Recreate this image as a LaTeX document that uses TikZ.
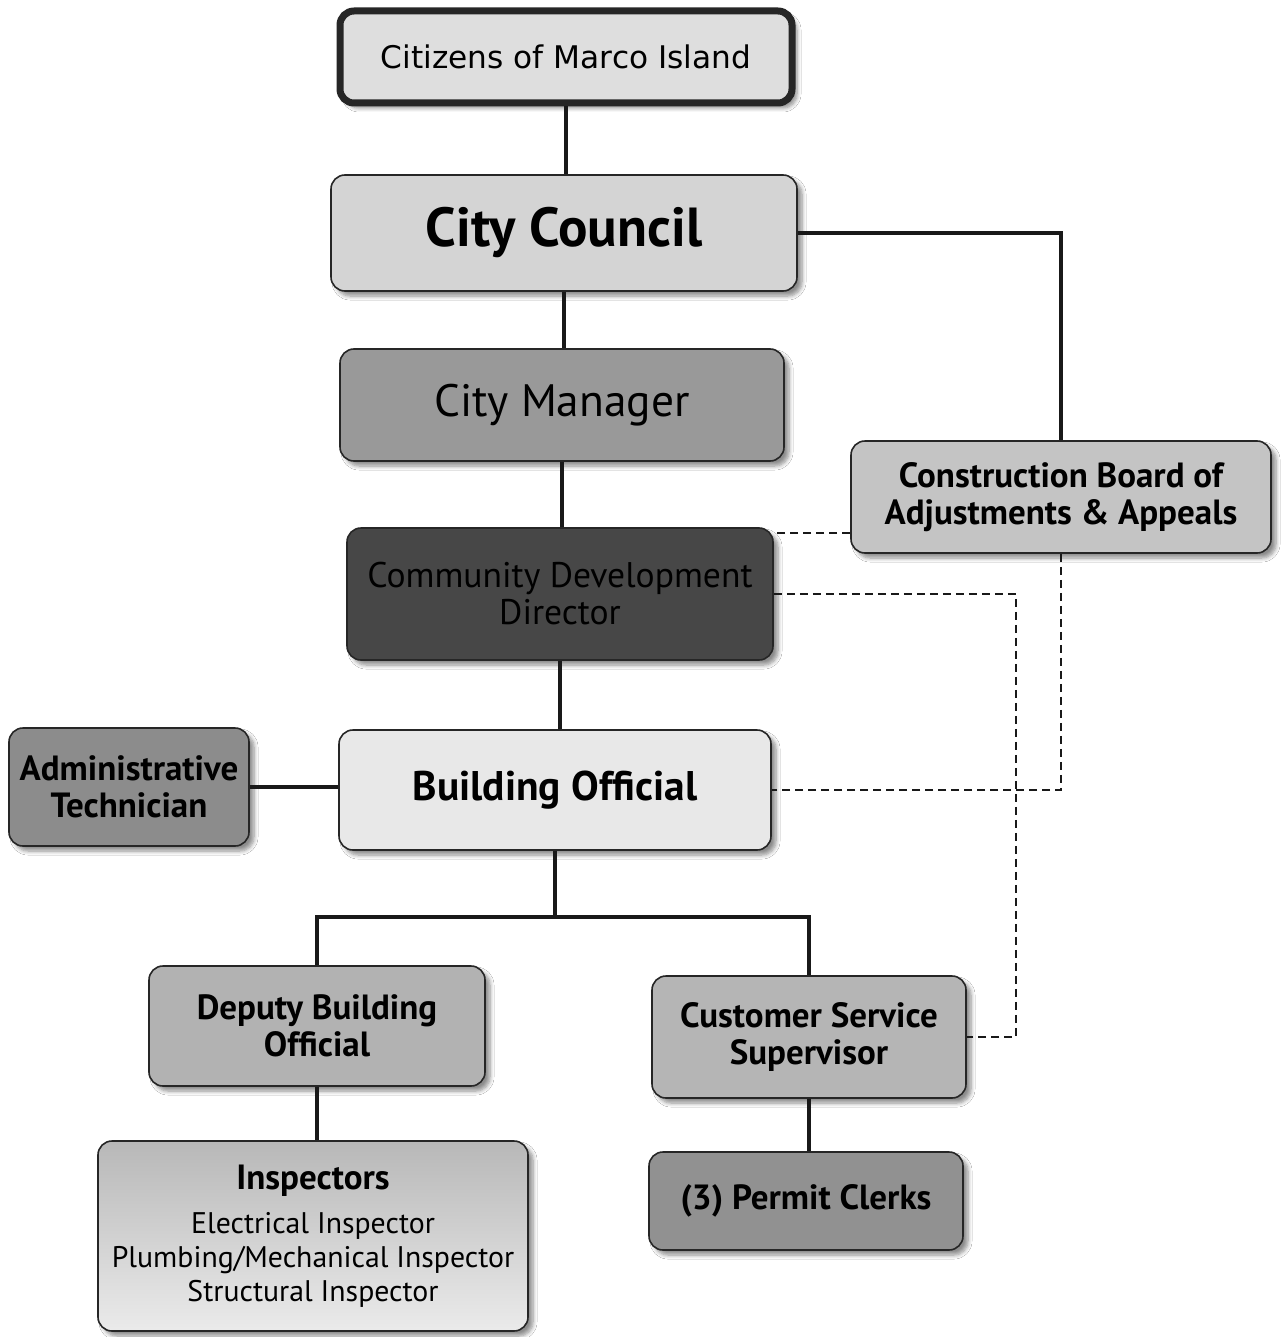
\documentclass[tikz,border=0pt]{standalone}
\usepackage{fontspec}
\setmainfont{PT Sans}
\newfontfamily\citfont{DejaVu Sans}
\usetikzlibrary{shadows,shadows.blur}
\begin{document}
\begin{tikzpicture}[x=0.5pt,y=-0.5pt,
  box/.style={draw=black!85, line width=0.8pt, rounded corners=7pt, align=center,
    inner sep=0pt, text=black,
    blur shadow={shadow xshift=2.5pt, shadow yshift=-2.5pt, shadow blur steps=6,
      shadow blur radius=2pt, shadow opacity=45}},
  link/.style={line width=2pt, draw=black!90},
  dlink/.style={line width=1.1pt, dash pattern=on 4pt off 2.5pt, draw=black!90},
  big/.style={font=\fontsize{27.5}{30}\selectfont\bfseries},
  mid/.style={font=\fontsize{17.5}{18.5}\selectfont\bfseries},
]
\useasboundingbox (0,0) rectangle (1286,1337);
\fill[white] (0,0) rectangle (1286,1337);

% boxes
\node[box, line width=3.5pt, fill=black!13, minimum width=226pt, minimum height=46pt,
  font=\citfont\fontsize{15.6}{18}\selectfont] (cit) at (566,57) {Citizens of Marco Island};
\node[box, fill=black!17, minimum width=233pt, minimum height=58pt, big] (cc) at (564,233) {City Council};
\node[box, fill=black!40, minimum width=222pt, minimum height=56pt,
  font=\fontsize{22.7}{26}\selectfont] (cm) at (562,405) {City Manager};
\node[box, fill=black!72, minimum width=213pt, minimum height=66pt,
  font=\fontsize{17.8}{18.5}\selectfont] (cdd) at (560,594) {Community Development\\Director};
\node[box, fill=black!23, minimum width=210pt, minimum height=56pt, mid] (cb) at (1061,497) {Construction Board of\\Adjustments \& Appeals};
\node[box, fill=black!45, minimum width=120pt, minimum height=59pt, mid] (at) at (129,787) {Administrative\\Technician};
\node[box, fill=black!9, minimum width=216pt, minimum height=60pt,
  font=\fontsize{20.7}{24}\selectfont\bfseries] (bo) at (555,790) {Building Official};
\node[box, fill=black!30, minimum width=168pt, minimum height=60pt, mid] (dbo) at (317,1026) {Deputy Building\\Official};
\node[box, fill=black!29, minimum width=157pt, minimum height=61pt, mid] (css) at (809,1037) {Customer Service\\Supervisor};
\node[box, top color=black!28, bottom color=black!8, minimum width=215pt, minimum height=95pt,
  font=\fontsize{14.9}{17}\selectfont] (ins) at (313,1236)
  {{\fontsize{17.5}{19}\selectfont\bfseries Inspectors}\\[5pt]Electrical Inspector\\Plumbing/Mechanical Inspector\\Structural Inspector};
\node[box, fill=black!43, minimum width=157pt, minimum height=49pt, mid] (pc) at (806,1201) {(3) Permit Clerks};

% reporting lines
\coordinate (bus) at (0,917);
\draw[link] (cit.south) -- (cit.south |- cc.north);
\draw[link] (cc.south) -- (cc.south |- cm.north);
\draw[link] (cm.south) -- (cm.south |- cdd.north);
\draw[link] (cdd.south) -- (cdd.south |- bo.north);
\draw[link] (cc.east) -| (cb.north);
\draw[link] (at.east) -- (bo.west |- at.east);
\draw[link] (bo.south) -- (bo.south |- bus);
\draw[link] (dbo.north) -- (dbo.north |- bus) -- (css.north |- bus) -- (css.north);
\draw[link] (dbo.south) -- (dbo.south |- ins.north);
\draw[link] (css.south) -- (css.south |- pc.north);

% advisory lines
\coordinate (d1) at (0,533);
\coordinate (d2) at (1016,0);
\draw[dlink] (cb.west |- d1) -- (cdd.east |- d1);
\draw[dlink] (cdd.east) -- (d2 |- cdd.east) -- (d2 |- css.east) -- (css.east);
\draw[dlink] (cb.south) |- (bo.east);
\end{tikzpicture}
\end{document}
